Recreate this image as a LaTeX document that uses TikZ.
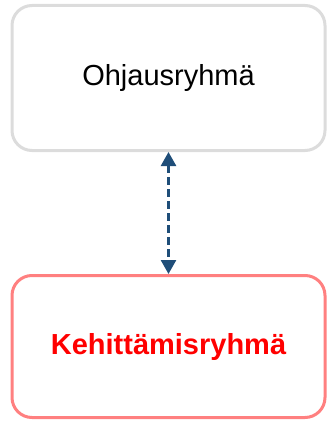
\documentclass[tikz,border=0pt]{standalone}
\usepackage{fontspec}
\setmainfont{Liberation Sans}
\usetikzlibrary{arrows.meta, positioning}

\definecolor{boxgray}{HTML}{DCDCDC}
\definecolor{boxred}{HTML}{FF8080}
\definecolor{linkblue}{HTML}{1F4E79}

\begin{document}
\begin{tikzpicture}[x=1pt, y=-1pt, >={Triangle[width=15pt,length=14pt]},
    groupbox/.style={rectangle, rounded corners=20pt, line width=3pt,
      minimum width=313pt, fill=white, font=\fontsize{29}{34}\selectfont}]

  % Fix the page to the reference size
  \useasboundingbox (0,0) rectangle (328,422);

  % The two groups
  \node[groupbox, draw=boxgray, minimum height=145pt] (ohjaus) at (168.5,78) {Ohjausryhmä};
  \node[groupbox, draw=boxred, minimum height=142pt, text=red, font=\fontsize{29}{34}\selectfont\bfseries,
    below=122pt of ohjaus] (kehitys) {Kehittämisryhmä};

  % Dashed two-way link
  \draw[<->, linkblue, line width=2.5pt, dash pattern=on 8pt off 4pt] (ohjaus) -- (kehitys);

\end{tikzpicture}
\end{document}
